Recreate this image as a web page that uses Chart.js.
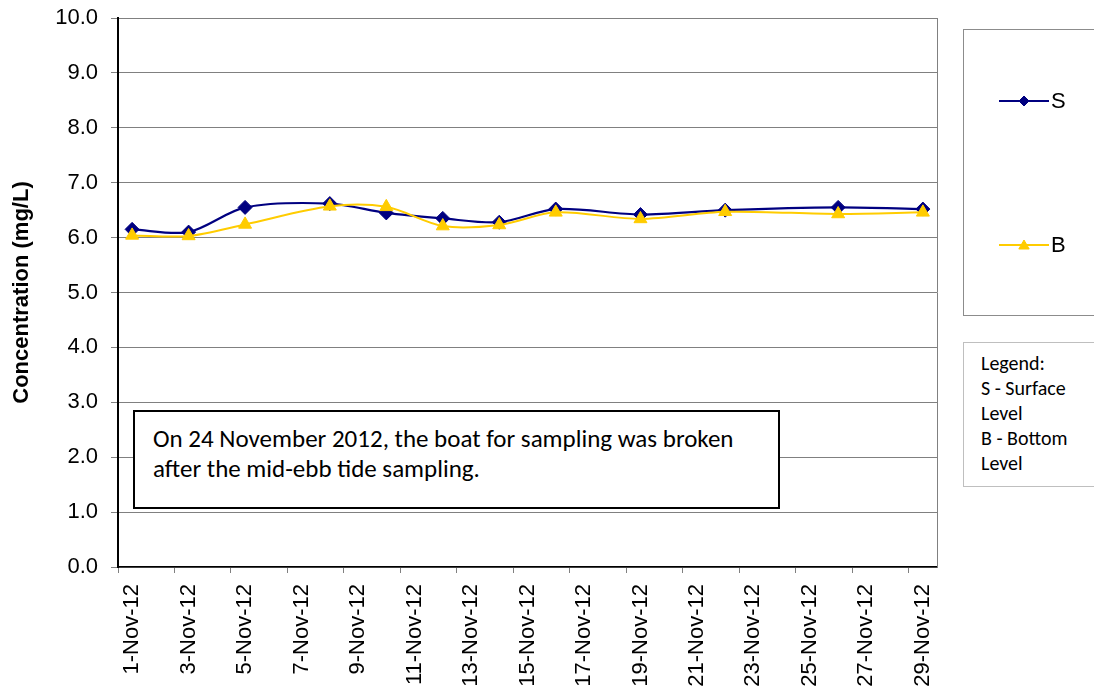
<!DOCTYPE html>
<html>
<head>
<meta charset="utf-8">
<script src="https://cdn.jsdelivr.net/npm/chart.js@4.4.1/dist/chart.umd.min.js"></script>
<style>
  body { margin: 0; background: #fff; }
  #wrap { position: relative; width: 1094px; height: 692px; overflow: hidden; }
  .note { position: absolute; background: #fff; box-sizing: border-box; color: #000; white-space: nowrap; }
  #ebb { left: 133px; top: 410px; width: 647px; height: 99px; border: 2px solid #000;
         font-family: "Carlito", "Noto Sans", sans-serif; font-size: 25px; line-height: 30px; padding: 12px 0 0 18px; }
  #key { left: 963px; top: 342px; width: 140px; height: 145px; border: 1px solid #bfbfbf;
         font-family: "Carlito", "Noto Sans", sans-serif; font-size: 20px; line-height: 25px; padding: 8px 0 0 17px; }
</style>
</head>
<body>
<div id="wrap">
  <canvas id="chart" width="1094" height="692"></canvas>
  <div class="note" id="ebb">On 24 November 2012, the boat for sampling was broken<br>after the mid-ebb tide sampling.</div>
  <div class="note" id="key">Legend:<br>S - Surface<br>Level<br>B - Bottom<br>Level</div>
</div>
<script>
// every day of the month is a slot on the axis, only odd days get a label
const dayLabels = [
  '1-Nov-12', '2-Nov-12', '3-Nov-12', '4-Nov-12', '5-Nov-12', '6-Nov-12', '7-Nov-12',
  '8-Nov-12', '9-Nov-12', '10-Nov-12', '11-Nov-12', '12-Nov-12', '13-Nov-12', '14-Nov-12',
  '15-Nov-12', '16-Nov-12', '17-Nov-12', '18-Nov-12', '19-Nov-12', '20-Nov-12', '21-Nov-12',
  '22-Nov-12', '23-Nov-12', '24-Nov-12', '25-Nov-12', '26-Nov-12', '27-Nov-12', '28-Nov-12',
  '29-Nov-12'
];
const sampleDates = ['1-Nov-12', '3-Nov-12', '5-Nov-12', '8-Nov-12', '10-Nov-12', '12-Nov-12',
  '14-Nov-12', '16-Nov-12', '19-Nov-12', '22-Nov-12', '26-Nov-12', '29-Nov-12'];
const surface = [6.15, 6.10, 6.55, 6.62, 6.45, 6.35, 6.28, 6.52, 6.42, 6.50, 6.55, 6.52];
const bottom  = [6.04, 6.03, 6.24, 6.57, 6.56, 6.21, 6.23, 6.46, 6.34, 6.47, 6.43, 6.46];

const NAVY = '#000080';
const GOLD = '#FFCC00';
const ARIAL = '"Liberation Sans", Arial, sans-serif';

function toPoints(values) {
  return sampleDates.map((d, i) => ({ x: d, y: values[i] }));
}

// right hand border of the plot area + the S/B legend box
const extras = {
  id: 'extras',
  beforeDatasetsDraw(chart) {
    const { ctx, chartArea } = chart;
    ctx.save();
    ctx.strokeStyle = '#808080';
    ctx.lineWidth = 1;
    ctx.beginPath();
    ctx.moveTo(chartArea.right + 0.5, chartArea.top);
    ctx.lineTo(chartArea.right + 0.5, chartArea.bottom);
    ctx.stroke();
    ctx.restore();
  },
  afterDraw(chart) {
    const ctx = chart.ctx;
    ctx.save();
    ctx.strokeStyle = '#8c8c8c';
    ctx.lineWidth = 1;
    ctx.strokeRect(963.5, 29.5, 150, 286);

    const entries = [
      { label: 'S', color: NAVY, style: 'rectRot', r: 5, y: 101 },
      { label: 'B', color: GOLD, style: 'triangle', r: 6, y: 245 }
    ];
    entries.forEach(e => {
      ctx.strokeStyle = e.color;
      ctx.lineWidth = 2;
      ctx.beginPath();
      ctx.moveTo(999, e.y);
      ctx.lineTo(1049, e.y);
      ctx.stroke();
      ctx.fillStyle = e.color;
      ctx.lineWidth = 1;
      Chart.helpers.drawPoint(ctx, { pointStyle: e.style, radius: e.r, borderWidth: 1, rotation: 0 }, 1024, e.style === 'triangle' ? e.y + 1 : e.y);
      ctx.fillStyle = '#000';
      ctx.font = '22px ' + ARIAL;
      ctx.textBaseline = 'middle';
      ctx.textAlign = 'left';
      ctx.fillText(e.label, 1051, e.y + 1);
    });
    ctx.restore();
  }
};

new Chart(document.getElementById('chart'), {
  type: 'line',
  data: {
    labels: dayLabels,
    datasets: [
      {
        label: 'S',
        data: toPoints(surface),
        borderColor: NAVY,
        backgroundColor: NAVY,
        borderWidth: 2.2,
        pointStyle: 'rectRot',
        pointRadius: 7,
        pointBorderWidth: 1,
        tension: 0.3,
        order: 1
      },
      {
        label: 'B',
        data: toPoints(bottom),
        borderColor: GOLD,
        backgroundColor: GOLD,
        borderWidth: 2,
        pointStyle: 'triangle',
        pointRadius: 7.5,
        pointBorderWidth: 1,
        tension: 0.3,
        order: 0
      }
    ]
  },
  options: {
    responsive: false,
    animation: false,
    devicePixelRatio: 1,
    layout: { padding: { top: 18, right: 157, left: 0, bottom: 0 } },
    plugins: {
      legend: { display: false },
      tooltip: { enabled: false }
    },
    scales: {
      x: {
        type: 'category',
        offset: true,
        grid: {
          offset: true,
          drawOnChartArea: false,
          tickLength: 6,
          tickColor: c => (c.index !== undefined && c.index % 2 === 0) ? '#808080' : 'rgba(0,0,0,0)'
        },
        border: { color: '#000', width: 1.5 },
        ticks: {
          autoSkip: false,
          minRotation: 90,
          maxRotation: 90,
          padding: 11,
          color: '#000',
          font: { family: ARIAL, size: 22 },
          callback: (v, i) => i % 2 === 0 ? dayLabels[i] : ''
        },
        afterFit: s => { s.height = 125; s.paddingLeft = 0; s.paddingRight = 0; }
      },
      y: {
        min: 0,
        max: 10,
        grid: { color: '#808080', lineWidth: 1, tickLength: 7, tickColor: '#808080' },
        border: { color: '#000', width: 2 },
        ticks: {
          stepSize: 1,
          padding: 13,
          color: '#000',
          font: { family: ARIAL, size: 22 },
          callback: v => v.toFixed(1)
        },
        title: {
          display: true,
          text: 'Concentration (mg/L)',
          color: '#000',
          font: { family: ARIAL, size: 22, weight: 'bold' },
          padding: { top: 9, bottom: 0 }
        },
        afterFit: s => { s.width = 118; s.paddingTop = 0; s.paddingBottom = 0; }
      }
    }
  },
  plugins: [extras]
});
</script>
</body>
</html>
